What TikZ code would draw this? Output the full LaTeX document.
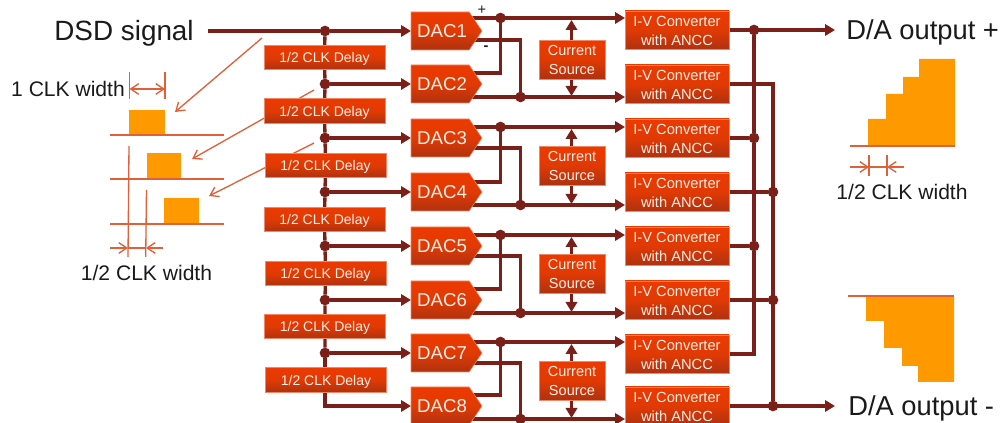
\documentclass[tikz,border=0pt]{standalone}
\usepackage{fontspec}
\setmainfont{Liberation Sans}
\usetikzlibrary{arrows.meta,shapes.symbols,calc}
\definecolor{wire}{HTML}{7A2018}
\definecolor{hot}{HTML}{EC3A00}
\definecolor{hotmid}{HTML}{E03A04}
\definecolor{hotlow}{HTML}{AE3210}
\definecolor{rim}{HTML}{F08868}
\definecolor{thin}{HTML}{E0603A}
\definecolor{pulse}{HTML}{FF9900}
\definecolor{ink}{HTML}{1A1A1A}
\definecolor{pale}{HTML}{FDEEE6}
\pgfdeclarelayer{background}
\pgfsetlayers{background,main}
\tikzset{
  x=.75pt,y=-.75pt,
  block/.style={draw=rim,line width=.4pt,top color=hot,bottom color=hotlow,middle color=hotmid,
    inner sep=0pt,outer sep=0pt,text=pale},
  delaybox/.style={block,rectangle,minimum width=90.75pt,minimum height=18.4pt,text height=7.6pt,text depth=0pt,font=\fontsize{10.5}{12}\selectfont},
  dacbox/.style={block,signal,signal to=east,signal from=nowhere,signal pointer angle=112,
    minimum width=53.25pt,minimum height=28.5pt,font=\fontsize{14}{16}\selectfont},
  ivbox/.style={block,rectangle,minimum width=78pt,minimum height=28.8pt,align=center,text height=23.4pt,font=\fontsize{11}{14}\selectfont},
  csbox/.style={block,rectangle,minimum width=49.5pt,minimum height=29pt,align=center,text height=23pt,font=\fontsize{10.9}{14.25}\selectfont},
  dot/.style={circle,fill=wire,inner sep=0pt,outer sep=0pt,minimum size=8pt},
  wireline/.style={draw=wire,line width=2.5pt},
  wirearrow/.style={wireline,-{Triangle[length=7.5pt,width=8.5pt]}},
  thinline/.style={draw=thin,line width=1pt},
  barb/.style={thinline,-{Straight Barb[length=6pt,width=8pt]}},
  bigtext/.style={text=ink,inner ysep=0pt,text height=14.9pt,text depth=0pt,font=\fontsize{20.9}{24}\selectfont},
  outtext/.style={text=ink,inner ysep=0pt,text height=14.6pt,text depth=0pt,font=\fontsize{20.5}{24}\selectfont},
  midtext/.style={text=ink,inner sep=0pt,text height=11.4pt,text depth=0pt,font=\fontsize{15.8}{18}\selectfont},
  signtext/.style={text=ink,inner sep=0pt,font=\fontsize{11}{12}\selectfont},
  baseline rule/.style={draw=thin,line width=1.5pt},
}
\begin{document}
\begin{tikzpicture}
\useasboundingbox (0,0) rectangle (1000,423);

% delay chain
\node[delaybox] (del1) at (324.5,57.5) {1/2 CLK Delay};
\node[delaybox] (del2) at (324.5,111) {1/2 CLK Delay};
\node[delaybox] (del3) at (325.5,165.5) {1/2 CLK Delay};
\node[delaybox] (del4) at (324.5,219.5) {1/2 CLK Delay};
\node[delaybox] (del5) at (325.5,273.5) {1/2 CLK Delay};
\node[delaybox] (del6) at (325,326.5) {1/2 CLK Delay};
\node[delaybox] (del7) at (326,380) {1/2 CLK Delay};

% DACs
\foreach \n/\y in {1/31,2/84,3/138,4/192,5/246,6/300,7/353,8/406}
  \node[dacbox,anchor=west] (dac\n) at (411,\y) {\kern3pt DAC\n};

% converters
\foreach \n/\y in {1/30,2/84,3/138,4/192,5/246,6/300,7/354,8/406}
  \node[ivbox] (iv\n) at (677,\y) {I-V Converter\\with ANCC};

% current sources
\foreach \n/\y in {1/59.5,2/165.5,3/273.5,4/380.5}
  \node[csbox] (cs\n) at (572,\y) {Current\\Source};

% bus junctions
\foreach \n/\y in {1/31,2/84,3/138,4/192,5/246,6/300,7/353}
  \node[dot] (b\n) at (325,\y) {};

% DAC ports and junctions
\foreach \g/\a/\b/\c/\d/\p/\q in {1/18/40/73/97/1/2,2/127/148/182/205/3/4,3/235/256/289/313/5/6,4/342/363/395/419/7/8}{
  \coordinate (dac\p a) at (465,\a);
  \coordinate (dac\p b) at (465,\b);
  \coordinate (dac\q a) at (465,\c);
  \coordinate (dac\q b) at (465,\d);
  \node[dot] (up\g) at (500.5,\a) {};
  \node[dot] (lo\g) at (520.5,\d) {};
}

% output junctions
\node[dot] (r1) at (754,30) {};
\node[dot] (r3) at (754,138) {};
\node[dot] (r5) at (754,246) {};
\node[dot] (s4) at (773,192) {};
\node[dot] (s6) at (773,300) {};
\node[dot] (s8) at (773,406) {};

% labels
\node[bigtext,anchor=east,inner xsep=10.5pt] (dsd) at (208,31) {DSD signal};
\node[outtext,anchor=west,inner xsep=8.25pt] (outp) at (835,30) {D/A output +};
\node[outtext,anchor=west,inner xsep=9.75pt] (outm) at (835,406) {D/A output -};
\node[midtext] (w1) at (68,88.5) {1 CLK width};
\node[midtext] (w2) at (146.5,273) {1/2 CLK width};
\node[midtext] (w3) at (902,192) {1/2 CLK width};
\node[signtext] (plus) at (482,10) {+};
\node[signtext,font=\bfseries\fontsize{11}{12}\selectfont] (minus) at (486,48) {-};

\begin{pgfonlayer}{background}
  % timing pointers, passing behind the delay boxes
  \coordinate (pt1) at (262,38);
  \coordinate (pt2) at (314,90);
  \coordinate (pt3) at (314,143);
  \draw[barb] (pt1) -- (175,112);
  \draw[barb] (pt2) -- (192,159);
  \draw[barb] (pt3) -- (209,196);

  % clock chain
  \draw[wireline] (dsd.east) -- (b1);
  \draw[wirearrow] (b1) -- (dac1.west);
  \draw[wireline] (b1) -- (del1) -- (b2) -- (del2) -- (b3) -- (del3) -- (b4) -- (del4) -- (b5) -- (del5) -- (b6) -- (del6) -- (b7);
  \draw[wirearrow] (b7) |- (dac8.west);
  \foreach \n in {2,...,7}
    \draw[wirearrow] (b\n) -- (b\n -| dac\n.west);

  % DAC outputs
  \foreach \g/\p/\q in {1/1/2,2/3/4,3/5/6,4/7/8}{
    \draw[wirearrow] (dac\p a) -- (iv\p.west |- dac\p a);
    \draw[wireline] (dac\p b) -| (lo\g);
    \draw[wireline] (dac\q a) -| (up\g);
    \draw[wirearrow] (dac\q b) -- (iv\q.west |- dac\q b);
    \draw[wirearrow] ($(cs\g.north)+(-.5,0)$) -- ($(cs\g.north |- up\g)+(-.5,2)$);
    \draw[wirearrow] ($(cs\g.south)+(-.5,0)$) -- ($(cs\g.south |- lo\g)+(-.5,-1)$);
  }

  % converter outputs
  \draw[wirearrow] (iv1.east) -- (outp.west);
  \draw[wireline] (r1) -- (r3) -- (r5) -- (r5 |- iv7.east) -- (iv7.east);
  \draw[wireline] (iv3.east) -- (r3);
  \draw[wireline] (iv5.east) -- (r5);
  \draw[wireline] (iv2.east) -| (s8);
  \draw[wireline] (iv4.east) -- (s4);
  \draw[wireline] (iv6.east) -- (s6);
  \draw[wirearrow] (iv8.east) -- (outm.west);
\end{pgfonlayer}

% timing diagram, left
\fill[pulse] (129,110) rectangle (165,135);
\fill[pulse] (146.5,153) rectangle (181,179);
\fill[pulse] (164,198) rectangle (198.5,224);
\draw[baseline rule] (110,135) -- (224,135);
\draw[baseline rule] (110,179.5) -- (224,179.5);
\draw[baseline rule] (110,224) -- (224,224);
\draw[thinline] (129.5,72) -- (129.5,99);
\draw[thinline] (165,72) -- (165,99);
\draw[barb,{Straight Barb[length=6pt,width=8pt]}-{Straight Barb[length=6pt,width=8pt]}] (129.5,89) -- (165,89);
\draw[thinline] (129,146) -- (128,257);
\draw[thinline] (146.5,190) -- (145.7,257);
\draw[barb] (110,248) -- (128,248);
\draw[thinline] (128,248) -- (146,248);
\draw[barb] (163,248) -- (146,248);

% staircase, plus
\fill[pulse] (868,146) |- (886,119) |- (903,94) |- (919,77) |- (955,59) -- (955,146) -- cycle;
\draw[baseline rule] (850,146) -- (955,146);
\draw[thinline] (869,155) -- (869,176);
\draw[thinline] (887,155) -- (887,176);
\draw[barb] (850,167) -- (869,167);
\draw[thinline] (869,167) -- (887,167);
\draw[barb] (904,167) -- (887,167);

% staircase, minus
\fill[pulse] (866,296) |- (884,321) |- (902,348) |- (918,366) |- (954,382) -- (954,296) -- cycle;
\draw[baseline rule] (848,296) -- (954,296);
\end{tikzpicture}
\end{document}
